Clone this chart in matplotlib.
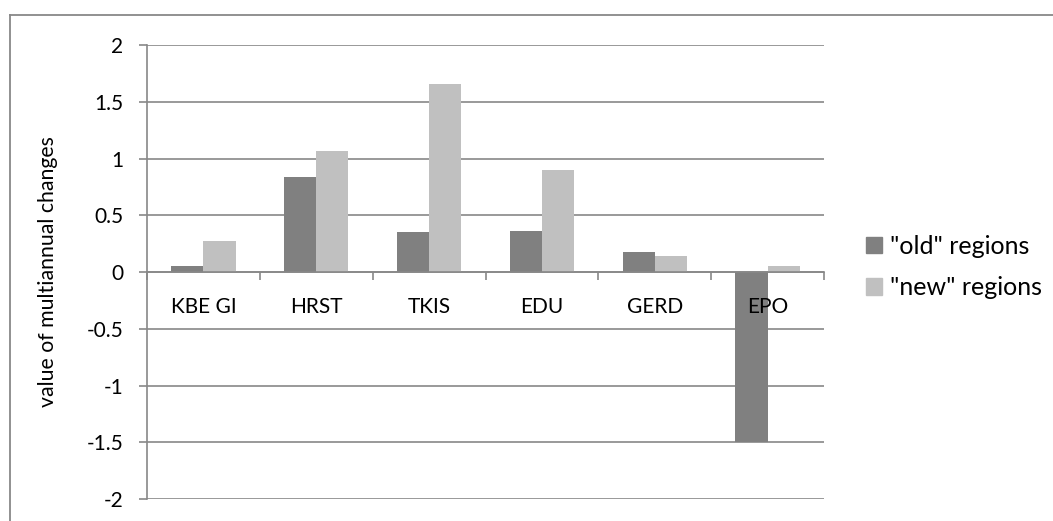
import numpy as np
import matplotlib.pyplot as plt
from matplotlib.lines import Line2D
from matplotlib.patches import Patch

# chart data
categories = ["KBE GI", "HRST", "TKIS", "EDU", "GERD", "EPO"]
old_regions = [0.05, 0.84, 0.35, 0.36, 0.18, -1.50]
new_regions = [0.27, 1.07, 1.66, 0.90, 0.14, 0.05]
y_ticks = [2, 1.5, 1, 0.5, 0, -0.5, -1, -1.5, -2]
y_tick_labels = ["2", "1.5", "1", "0.5", "0", "-0.5", "-1", "-1.5", "-2"]

old_color = "#808080"
new_color = "#c0c0c0"
line_color = "#888888"

plt.rcParams['font.family'] = ['Lato', 'DejaVu Sans']

fig = plt.figure(figsize=(10.53, 5.21), dpi=100)
ax = fig.add_axes([147 / 1053, 1 - 499 / 521, (824 - 147) / 1053, (499 - 45) / 521])
ax.set_axisbelow(True)

x = np.arange(len(categories))
w = 0.285
ax.bar(x - w / 2, old_regions, w, color=old_color, zorder=2)
ax.bar(x + w / 2, new_regions, w, color=new_color, zorder=2)

ax.set_xlim(-0.5, len(categories) - 0.5)
ax.set_ylim(-2, 2)

# y axis
ax.set_yticks(y_ticks)
ax.set_yticklabels(y_tick_labels, fontsize=15)
ax.tick_params(axis='y', length=6, width=1.2, color=line_color, pad=11)
ax.grid(axis='y', color=line_color, linewidth=1.2)
ax.text(-0.146, 0.5, "value of multiannual changes", transform=ax.transAxes,
        rotation=90, ha='center', va='center', fontsize=15.3)

# x axis at zero
ax.spines['top'].set_visible(False)
ax.spines['right'].set_visible(False)
ax.spines['left'].set_color(line_color)
ax.spines['left'].set_linewidth(1.2)
ax.spines['bottom'].set_position(('data', 0))
ax.spines['bottom'].set_color(line_color)
ax.spines['bottom'].set_linewidth(1.2)
ax.set_xticks(np.arange(len(categories) + 1) - 0.5)
ax.set_xticklabels([])
ax.tick_params(axis='x', length=5.5, width=1.2, color=line_color)

for xi, name in zip(x, categories):
    ax.text(xi, -0.31, name, ha='center', va='center', fontsize=15, zorder=5)

# legend
handles = [Patch(color=old_color, label='"old" regions'),
           Patch(color=new_color, label='"new" regions')]
fig.legend(handles=handles, loc='center left', bbox_to_anchor=(866 / 1053, 1 - 267 / 521),
           frameon=False, fontsize=18, handlelength=0.62, handleheight=0.62,
           handletextpad=0.35, labelspacing=0.75, borderpad=0, borderaxespad=0)

# outer chart border (top and left only visible)
fig.add_artist(Line2D([10 / 1053, 1], [1 - 15 / 521, 1 - 15 / 521], color=line_color, lw=1.3))
fig.add_artist(Line2D([10 / 1053, 10 / 1053], [0, 1 - 15 / 521], color=line_color, lw=1.3))

fig.savefig("out.png", dpi=100)
